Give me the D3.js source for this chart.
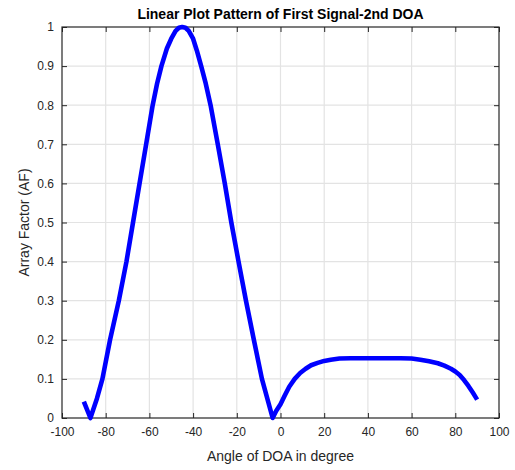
<!DOCTYPE html>
<html>
<head>
<meta charset="utf-8">
<script src="https://cdn.jsdelivr.net/npm/d3@7"></script>
<style>
  html, body { margin: 0; padding: 0; background: #fff; }
  svg { display: block; }
  text { font-family: "Liberation Sans", Arial, Helvetica, sans-serif; }
</style>
</head>
<body>
<svg id="chart" width="515" height="470"></svg>
<script>
// ---- data ----
const angles = [-90, -87, -84, -81.5, -78, -74, -70.5, -67.5, -64.5, -61.5, -58.5, -56.5, -54.5, -52, -50, -48, -46.5, -45,
                -43.5, -42, -40, -38.3, -36.3, -34.2, -32, -28.7, -25.5, -22.5, -19.2, -15.8, -12.2, -8.5, -3.6,
                -2, 0, 2, 4, 6.5, 9, 11.5, 14, 17, 20, 23, 27, 32, 40, 55, 60, 64, 68, 72, 75, 78, 80, 82, 84, 86, 88, 90];
const arrayFactor = [0.042, 0, 0.05, 0.1, 0.2, 0.3, 0.4, 0.5, 0.6, 0.7, 0.8, 0.855, 0.9, 0.945, 0.97, 0.99, 0.998, 1.0,
                     0.998, 0.99, 0.97, 0.94, 0.9, 0.855, 0.8, 0.7, 0.6, 0.5, 0.4, 0.3, 0.2, 0.1, 0,
                     0.018, 0.035, 0.058, 0.08, 0.1, 0.115, 0.126, 0.135, 0.141, 0.146, 0.149, 0.152, 0.153, 0.153, 0.153, 0.152, 0.149, 0.145, 0.140, 0.134, 0.126, 0.119, 0.110, 0.097, 0.082, 0.065, 0.047];
const xTicks = [-100, -80, -60, -40, -20, 0, 20, 40, 60, 80, 100];
const yTicks = [0, 0.1, 0.2, 0.3, 0.4, 0.5, 0.6, 0.7, 0.8, 0.9, 1];
const titleText = "Linear Plot Pattern of First Signal-2nd DOA";
const xLabelText = "Angle of DOA in degree";
const yLabelText = "Array Factor (AF)";

// ---- layout ----
const L = 62, R = 499, T = 27, B = 418;
const svg = d3.select("#chart");
const x = d3.scaleLinear().domain([-100, 100]).range([L, R]);
const y = d3.scaleLinear().domain([0, 1]).range([B, T]);

// grid
const grid = svg.append("g");
grid.selectAll("line.gx").data(xTicks.slice(1, -1)).join("line")
  .attr("x1", d => x(d)).attr("x2", d => x(d)).attr("y1", T).attr("y2", B)
  .attr("stroke", "#e3e3e3").attr("stroke-width", 1.2);
grid.selectAll("line.gy").data(yTicks.slice(1, -1)).join("line")
  .attr("x1", L).attr("x2", R).attr("y1", d => y(d)).attr("y2", d => y(d))
  .attr("stroke", "#e3e3e3").attr("stroke-width", 1.2);

// axes (ticks inward, MATLAB style)
const tickColor = "#262626";
const gx = svg.append("g").attr("transform", `translate(0,${B})`)
  .call(d3.axisBottom(x).tickValues(xTicks).tickSize(-5).tickPadding(9).tickFormat(d => String(d)));
const gxTop = svg.append("g").attr("transform", `translate(0,${T})`)
  .call(d3.axisTop(x).tickValues(xTicks).tickSize(-5).tickFormat(""));
const gy = svg.append("g").attr("transform", `translate(${L},0)`)
  .call(d3.axisLeft(y).tickValues(yTicks).tickSize(-5).tickPadding(8).tickFormat(d => d === 0 || d === 1 ? String(d) : d3.format(".1f")(d)));
const gyRight = svg.append("g").attr("transform", `translate(${R},0)`)
  .call(d3.axisRight(y).tickValues(yTicks).tickSize(-5).tickFormat(""));

[gx, gxTop, gy, gyRight].forEach(g => {
  g.select(".domain").remove();
  g.selectAll(".tick line").attr("stroke", tickColor).attr("stroke-width", 1);
  g.selectAll(".tick text").attr("fill", tickColor).style("font-size", "12px")
    .style("font-family", "'Liberation Sans', Arial, sans-serif");
});

// box
svg.append("rect").attr("x", L).attr("y", T).attr("width", R - L).attr("height", B - T)
  .attr("fill", "none").attr("stroke", tickColor).attr("stroke-width", 1.2);

// curve
const line = d3.line().x((d, i) => x(angles[i])).y(d => y(d)).curve(d3.curveLinear);
svg.append("path").datum(arrayFactor)
  .attr("d", line)
  .attr("fill", "none").attr("stroke", "#0000ff").attr("stroke-width", 4.6)
  .attr("stroke-linejoin", "round").attr("stroke-linecap", "butt");

// title and labels
svg.append("text").attr("x", (L + R) / 2).attr("y", 19).attr("text-anchor", "middle")
  .style("font-size", "14px").style("font-weight", "bold").attr("fill", "#000")
  .text(titleText);
svg.append("text").attr("x", (L + R) / 2).attr("y", 461).attr("text-anchor", "middle")
  .style("font-size", "14px").attr("fill", tickColor).text(xLabelText);
svg.append("text").attr("transform", `translate(29,${(T + B) / 2}) rotate(-90)`)
  .attr("text-anchor", "middle").style("font-size", "14px").attr("fill", tickColor).text(yLabelText);
</script>
</body>
</html>
